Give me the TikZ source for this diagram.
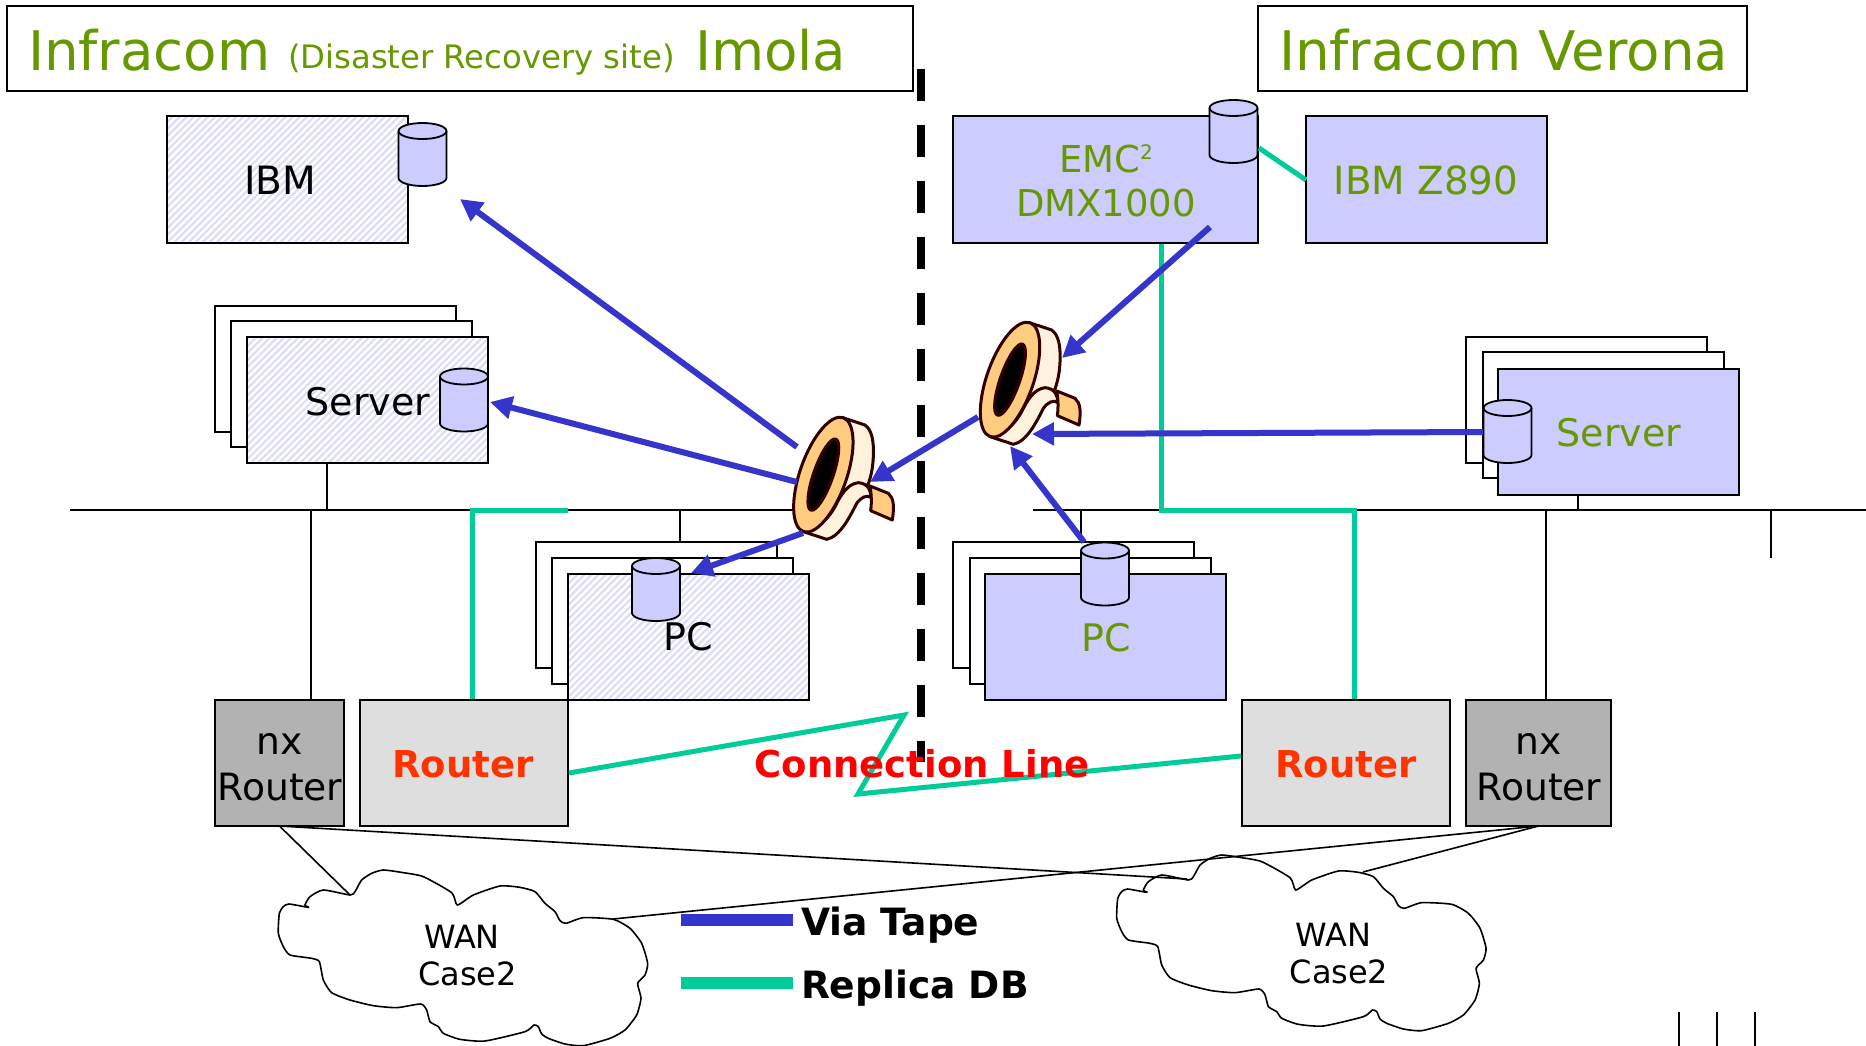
\documentclass[tikz,border=0pt]{standalone}
\usepackage{fontspec}
\setmainfont{DejaVu Sans}
\usetikzlibrary{arrows.meta,patterns.meta}
\definecolor{gtext}{HTML}{669900}
\definecolor{bfill}{HTML}{CCCCFF}
\definecolor{hatch}{HTML}{DCDCFA}
\definecolor{tapeline}{HTML}{330000}
\definecolor{tapeor}{HTML}{FFCC80}
\definecolor{tapecr}{HTML}{FFF2DC}
\definecolor{blueline}{HTML}{3535CC}
\definecolor{greenline}{HTML}{00CC99}
\definecolor{rtxt}{HTML}{FF3300}
\newcommand{\fsz}[1]{\fontsize{#1}{#1}\selectfont}
\newcommand{\tapeat}[2]{%
\begin{scope}[shift={(#1,#2)},scale=1/3,tapedraw/.style={draw=tapeline,line width=3pt,line join=round}]
 \path[tapedraw,fill=tapecr] (245,352) -- (315,375) .. controls (335,390) and (342,420) .. (340,470) .. controls (338,510) and (332,530) .. (325,552) -- (130,695) -- cycle;
 \path[tapedraw,fill=tapeor] (330,558) -- (385,580) .. controls (402,595) and (403,620) .. (397,660) -- (332,632) .. controls (335,610) and (335,590) .. (330,558) -- cycle;
 \path[tapedraw,fill=tapecr] (130,695) -- (200,718) .. controls (240,710) and (270,650) .. (290,610) .. controls (305,590) and (320,585) .. (332,592) .. controls (335,575) and (325,550) .. (295,548) .. controls (260,552) and (240,590) .. (225,620) .. controls (200,665) and (170,685) .. (130,695) -- cycle;
 \begin{scope}[shift={(190,524)},rotate=70.7]
  \path[tapedraw,fill=tapeor] (0,0) ellipse [x radius=181,y radius=70];
  \path[tapedraw,fill=black] (0,0) ellipse [x radius=113,y radius=29];
 \end{scope}
\end{scope}}
\newcommand{\cloudat}[2]{%
\begin{scope}[shift={(#1,#2)},scale=1/3]
 \draw[line width=1.6pt,fill=white] plot[smooth cycle,tension=0.35] coordinates {(330,195)(345,185)(365,150)(395,130)(430,120)(490,128)(550,140)(635,188)(652,225)(700,195)(780,168)(840,172)(885,185)(915,220)(945,245)(960,272)(978,280)(1030,263)(1120,268)(1170,295)(1205,340)(1223,400)(1215,435)(1193,460)(1203,505)(1190,555)(1155,600)(1110,625)(1030,647)(975,642)(925,625)(905,612)(895,590)(882,585)(855,605)(735,633)(660,628)(610,610)(595,590)(570,575)(560,540)(542,522)(470,533)(400,527)(330,510)(275,488)(250,450)(238,395)(215,385)(150,375)(130,350)(115,310)(118,250)(130,230)(147,222)(205,232)(195,225)(210,200)(250,180)};
\end{scope}}
\newcommand{\dbat}[2]{%
\begin{scope}[shift={(#1,#2)}]
 \draw[line width=1.8pt,fill=bfill] (-24,-23.5) .. controls (-24,-27.9) and (-13.3,-31.5) .. (0,-31.5) .. controls (13.3,-31.5) and (24,-27.9) .. (24,-23.5) -- (24,23.5) .. controls (24,27.9) and (13.3,31.5) .. (0,31.5) .. controls (-13.3,31.5) and (-24,27.9) .. (-24,23.5) -- cycle;
 \draw[line width=1.8pt] (-24,-23.5) .. controls (-24,-19.1) and (-13.3,-15.5) .. (0,-15.5) .. controls (13.3,-15.5) and (24,-19.1) .. (24,-23.5);
\end{scope}}
\tikzset{
 x=1pt,y=-1pt,
 plainbox/.style={draw=black,line width=2pt,fill=white,inner sep=0pt,outer sep=0pt,minimum width=241pt,minimum height=126pt},
 hatchbox/.style={plainbox,preaction={fill=white},pattern={Lines[angle=45,distance=5pt,line width=2.2pt]},pattern color=hatch},
 bluebox/.style={plainbox,fill=bfill},
 titlebox/.style={draw=black,line width=2pt,fill=white,inner sep=0pt,outer sep=0pt,minimum height=85pt},
 routerbox/.style={draw=black,line width=2pt,fill=#1,inner sep=0pt,outer sep=0pt,minimum height=126pt},
 txt/.style={inner sep=0pt,outer sep=0pt,font=\fsz{38},text=black},
 gtxt/.style={txt,text=gtext},
 boldtxt/.style={inner sep=0pt,outer sep=0pt,font=\fsz{37}\bfseries},
 legendtxt/.style={inner sep=0pt,outer sep=0pt,font=\fsz{37.6}\bfseries,anchor=west},
 tapeflow/.style={draw=blueline,line width=6pt,-{Triangle[length=22pt,width=22pt]}},
 replica/.style={draw=greenline,line width=5pt},
 wire/.style={draw=black,line width=1.6pt},
}
\begin{document}
\begin{tikzpicture}
\useasboundingbox (0,0) rectangle (1866,1046);
\fill[white] (0,0) rectangle (1866,1046);
% titles
\node[titlebox,minimum width=906pt] (titleL) at (459.5,49) {};
\node[titlebox,minimum width=489pt] (titleR) at (1502.5,49) {};
\node[gtxt,font=\fsz{54.6},anchor=base west] (tIn) at (28,71) {Infracom};
\node[gtxt,font=\fsz{32.3},anchor=base west] (tDr) at (288,69) {(Disaster Recovery site)};
\node[gtxt,font=\fsz{54.6},anchor=base west] (tIm) at (695,71) {Imola};
\node[gtxt,font=\fsz{54.6},anchor=base west] (tVe) at (1279,71) {Infracom Verona};
% separator
\coordinate (sepT) at (921,69);
\coordinate (sepB) at (921,762);
\draw[black,line width=8pt,dash pattern=on 32pt off 24pt] (sepT) -- (sepB);
% network lines
\coordinate (busLa) at (70,510); \coordinate (busLb) at (800,510);
\coordinate (busRa) at (1033,510); \coordinate (busRb) at (1866,510);
\draw[wire] (busLa) -- (busLb);
\draw[wire] (busRa) -- (busRb);
% left servers
\node[plainbox] (srvL3) at (335.5,369) {};
\node[plainbox] (srvL2) at (351.5,384) {};
\node[hatchbox] (srvL1) at (367,400) {};
\node[txt] (srvLt) at (368,402) {Server};
% left PC
\node[plainbox] (pcL3) at (656,604.5) {};
\node[plainbox] (pcL2) at (672.5,621) {};
\node[hatchbox] (pcL1) at (688,636.5) {};
\node[txt] (pcLt) at (688,637) {PC};
% right PC
\node[plainbox] (pcR3) at (1073.5,604.5) {};
\node[plainbox] (pcR2) at (1090,621) {};
\node[bluebox] (pcR1) at (1105.5,636.5) {};
\node[gtxt] (pcRt) at (1106,638) {PC};
% right servers
\node[plainbox] (srvR3) at (1586.5,400) {};
\node[plainbox] (srvR2) at (1603,415) {};
\node[bluebox] (srvR1) at (1618.5,431.5) {};
\node[gtxt] (srvRt) at (1619,433) {Server};
% top
\node[hatchbox] (ibm) at (287.5,179.5) {};
\node[txt,font=\fsz{39}] (ibmt) at (280,180) {IBM};
\node[bluebox,minimum width=305pt] (emc) at (1105.5,179.5) {};
\node[gtxt,align=center,font=\fsz{37}] (emct) at (1106,181) {EMC{\fsz{20}\raisebox{13pt}{2}}\\[7pt]DMX1000};
\node[bluebox] (z890) at (1426.5,179.5) {};
\node[gtxt,font=\fsz{38.8}] (z890t) at (1426,180) {IBM Z890};
% routers
\node[routerbox=black!30,minimum width=129pt] (nxL) at (279.5,763) {};
\node[txt,align=center,font=\fsz{37.6}] (nxLt) at (280,767) {nx\\[8pt]Router};
\node[routerbox=black!13,minimum width=208pt] (rtL) at (464,763) {};
\node[boldtxt,text=rtxt] (rtLt) at (463,764) {Router};
\node[routerbox=black!13,minimum width=208pt] (rtR) at (1346,763) {};
\node[boldtxt,text=rtxt] (rtRt) at (1346,764) {Router};
\node[routerbox=black!30,minimum width=145pt] (nxR) at (1538.5,763) {};
\node[txt,align=center,font=\fsz{37.6}] (nxRt) at (1539,767) {nx\\[8pt]Router};
% stubs
\coordinate (s1a) at (327,463); \coordinate (s1b) at (327,510);
\coordinate (s2a) at (311,510); \coordinate (s2b) at (311,700);
\coordinate (s3a) at (680,510); \coordinate (s3b) at (680,541);
\coordinate (s4a) at (1081,510); \coordinate (s4b) at (1081,541);
\coordinate (s5a) at (1578,494); \coordinate (s5b) at (1578,510);
\coordinate (s6a) at (1546,510); \coordinate (s6b) at (1546,700);
\coordinate (stubA) at (1771,510); \coordinate (stubB) at (1771,558);
\draw[wire] (s1a) -- (s1b);
\draw[wire] (s2a) -- (s2b);
\draw[wire] (s3a) -- (s3b);
\draw[wire] (s4a) -- (s4b);
\draw[wire] (s5a) -- (s5b);
\draw[wire] (s6a) -- (s6b);
\draw[wire] (stubA) -- (stubB);
% storage
\dbat{422.5}{154.5}
\dbat{464}{400}
\dbat{656}{589.5}
\dbat{1233.5}{131.5}
\dbat{1105}{574}
\dbat{1507.5}{431.5}
% clouds
\cloudat{240}{830}
\cloudat{1078.4}{815}
\node[txt,font=\fsz{32},align=left] (wanL) at (467.5,956) {\hspace*{6pt}WAN\\[5pt]Case2};
\node[txt,font=\fsz{32},align=left] (wanR) at (1339,954) {\hspace*{6pt}WAN\\[5pt]Case2};
% wan wires
\coordinate (cloudLa) at (350,895); \coordinate (cloudLb) at (613,919);
\coordinate (cloudRa) at (1187,879); \coordinate (cloudRb) at (1363,872);
\draw[wire] (nxL.south) -- (cloudLa);
\draw[wire] (nxL.south) -- (cloudRa);
\draw[wire] (nxR.south) -- (cloudLb);
\draw[wire] (nxR.south) -- (cloudRb);
% replica
\coordinate (e0) at (1259,148); \coordinate (e00) at (1306,180);
\coordinate (e1) at (1161,244); \coordinate (e2) at (1161,510); \coordinate (e3) at (1354,510); \coordinate (e4) at (1354,699);
\draw[replica] (e0) -- (e00);
\draw[replica,line join=miter] (e1) -- (e2) -- (e3) -- (e4);
\coordinate (l1) at (472,699); \coordinate (l2) at (472,510); \coordinate (l3) at (568,510);
\draw[replica] (l1) -- (l2) -- (l3);
\coordinate (k0) at (569,773); \coordinate (k1) at (904,715); \coordinate (k2) at (858,794); \coordinate (k3) at (1241,756);
\draw[replica] (k0) -- (k1) -- (k2) -- (k3);
\node[boldtxt,text=red] (conn) at (922,764) {Connection Line};
% tapes
\tapeat{760}{300}
\tapeat{946.7}{205}
% tape arrows
\coordinate (a1) at (797,447); \coordinate (a1e) at (460,199);
\coordinate (a2) at (797,482); \coordinate (a2e) at (490,402);
\coordinate (a3) at (803,533); \coordinate (a3e) at (691,573);
\coordinate (a4) at (978,417); \coordinate (a4e) at (870,482);
\coordinate (a5) at (1210,227); \coordinate (a5e) at (1062,358);
\coordinate (a6) at (1483,432); \coordinate (a6e) at (1032,434);
\coordinate (a7) at (1084,542); \coordinate (a7e) at (1010,446);
\draw[tapeflow] (a1) -- (a1e);
\draw[tapeflow] (a2) -- (a2e);
\draw[tapeflow] (a3) -- (a3e);
\draw[tapeflow] (a4) -- (a4e);
\draw[tapeflow] (a5) -- (a5e);
\draw[tapeflow] (a6) -- (a6e);
\draw[tapeflow] (a7) -- (a7e);
% legend
\coordinate (lb1) at (681,920); \coordinate (lb2) at (793,920);
\coordinate (lg1) at (681,983); \coordinate (lg2) at (793,983);
\draw[blueline,line width=12pt] (lb1) -- (lb2);
\draw[greenline,line width=12pt] (lg1) -- (lg2);
\node[legendtxt] (lbT) at (801,925) {Via Tape};
\node[legendtxt] (lgT) at (801,988) {Replica DB};
% page-foot ticks
\foreach \tx in {1679,1717,1755} \draw[wire,line width=2pt] (\tx,1012) -- (\tx,1046);
\end{tikzpicture}
\end{document}
